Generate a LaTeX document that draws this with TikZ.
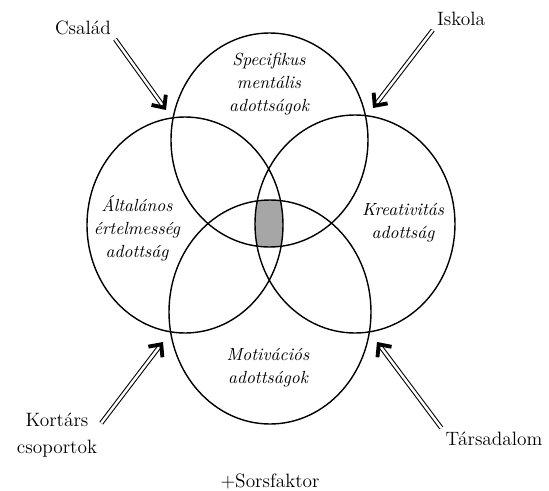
\documentclass[tikz,border=0pt]{standalone}
\usepackage{tikz}
\usetikzlibrary{arrows.meta}
\tikzset{
  inner/.style={font=\fontsize{10}{13}\selectfont\itshape, align=center},
  outer/.style={font=\fontsize{11}{15}\selectfont, align=center, inner sep=2pt},
  push/.style={double, double distance=1.4pt, line width=0.6pt,
    -{Straight Barb[length=5.5pt, width=10pt, line width=2.2pt]}}
}

\begin{document}
\begin{tikzpicture}[x=0.02cm, y=-0.02cm, line width=0.8pt]
\useasboundingbox (0,0) rectangle (549,491);

% Shaded core
\begin{scope}
  \clip (269.5,140) ellipse [x radius=98.5, y radius=107];
  \clip (185,225) ellipse [x radius=98, y radius=108];
  \clip (355,224) ellipse [x radius=100, y radius=109];
  \fill[black!35] (270,312) ellipse [x radius=101, y radius=112];
\end{scope}

% Circles
\foreach \cx/\cy/\rx/\ry in {269.5/140/98.5/107, 185/225/98/108, 355/224/100/109, 270/312/101/112}
{
    \draw (\cx,\cy) ellipse [x radius=\rx, y radius=\ry];
}

% Inner labels
\node[inner] (spec) at (269,84) {Specifikus\\mentális\\adottságok};
\node[inner] (alt) at (137,228) {Általános\\értelmesség\\adottság};
\node[inner] (krea) at (403,223) {Kreativitás\\adottság};
\node[inner] (moti) at (268,368) {Motivációs\\adottságok};

% Outer labels
\node[outer] (csalad) at (83,28) {Család};
\node[outer] (iskola) at (461,19) {Iskola};
\node[outer] (kortars) at (57,435) {Kortárs\\csoportok};
\node[outer] (tarsad) at (494,439) {Társadalom};
\node[outer] (sors) at (270,481) {+Sorsfaktor};

% Arrows
\coordinate (csaladtip) at (166,110);
\coordinate (iskolatip) at (373,108);
\coordinate (kortarstip) at (163,342);
\coordinate (tarsadtip) at (377,342);
\draw[push] (csalad.south east) -- (csaladtip);
\draw[push] (iskola.south west) -- (iskolatip);
\draw[push] (kortars.15) -- (kortarstip);
\draw[push] (tarsad.north west) -- (tarsadtip);

\end{tikzpicture}
\end{document}
